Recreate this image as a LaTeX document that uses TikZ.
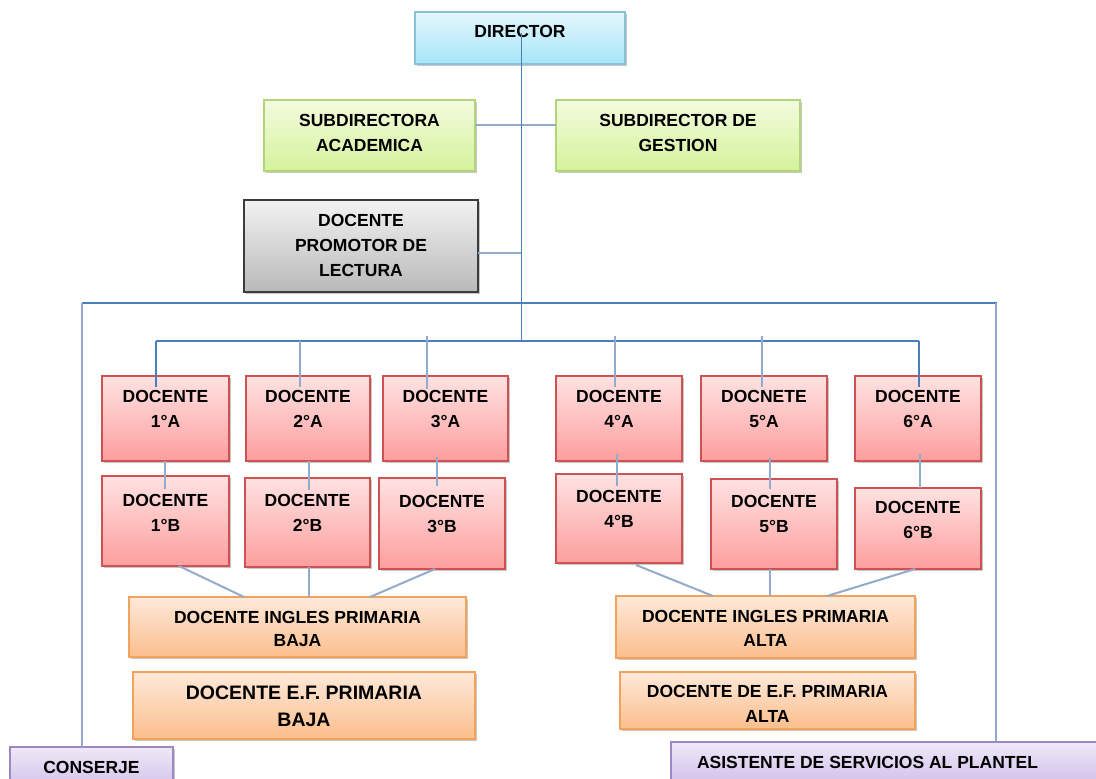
\documentclass[tikz,border=0pt]{standalone}
\usepackage{fontspec}
\setmainfont{Liberation Sans}
\usetikzlibrary{shadows,calc}
\definecolor{cyT}{HTML}{E4F7FD}\definecolor{cyB}{HTML}{A6E5F8}\definecolor{cyD}{HTML}{86C3D8}
\definecolor{grT}{HTML}{F3FBDF}\definecolor{grB}{HTML}{D4F29A}\definecolor{grD}{HTML}{B2D47A}
\definecolor{gyT}{HTML}{F2F2F2}\definecolor{gyB}{HTML}{B9B9B9}\definecolor{gyD}{HTML}{3C3C3C}
\definecolor{rdT}{HTML}{FFE2E2}\definecolor{rdB}{HTML}{FD9E9E}\definecolor{rdD}{HTML}{CF5252}
\definecolor{orT}{HTML}{FEE9DA}\definecolor{orB}{HTML}{FBBE8C}\definecolor{orD}{HTML}{F2A25A}
\definecolor{puT}{HTML}{EFE8F8}\definecolor{puB}{HTML}{CDB9E8}\definecolor{puD}{HTML}{9C88C2}
\definecolor{lnA}{HTML}{4A7EBB}\definecolor{lnB}{HTML}{93ABCB}
\newcommand{\bx}[8]{\node[#2, anchor=north west, inner sep=0pt, outer sep=0pt] (#1) at (#3,#4) {\parbox[c][#6pt][t]{#5pt}{\centering\rule{0pt}{#7pt}#8}};}
\tikzset{
  box/.style={draw, line width=1.2pt, shading=axis, font=\bfseries\fontsize{17.5}{25}\selectfont,
    drop shadow={shadow xshift=1.5pt, shadow yshift=-2pt, fill=black, opacity=0.22}},
  cyanbox/.style={box, top color=cyT, bottom color=cyB, draw=cyD},
  greenbox/.style={box, top color=grT, bottom color=grB, draw=grD},
  graybox/.style={box, top color=gyT, bottom color=gyB, draw=gyD},
  redbox/.style={box, top color=rdT, bottom color=rdB, draw=rdD},
  orangebox/.style={box, top color=orT, bottom color=orB, draw=orD},
  purplebox/.style={box, top color=puT, bottom color=puB, draw=puD},
  mainline/.style={draw=lnA, line width=1.8pt},
  lightline/.style={draw=lnB, line width=2pt}
}
\begin{document}
\begin{tikzpicture}[x=1pt,y=-1pt]
\useasboundingbox (0,0) rectangle (1096,779);
\clip (0,0) rectangle (1096,779);
\fill[white] (0,0) rectangle (1096,779);
% boxes
\bx{dir}{cyanbox}{415}{12}{210}{52}{25}{DIRECTOR}
\bx{sa}{greenbox}{264}{100}{211}{71}{26}{SUBDIRECTORA\\ACADEMICA}
\bx{sg}{greenbox}{556}{100}{244}{71}{26}{SUBDIRECTOR DE\\GESTION}
\bx{pl}{graybox}{244}{200}{234}{92}{26}{DOCENTE\\PROMOTOR DE\\LECTURA}
\bx{a1}{redbox}{102}{376}{127}{85}{26}{DOCENTE\\1°A}
\bx{a2}{redbox}{246}{376}{124}{85}{26}{DOCENTE\\2°A}
\bx{a3}{redbox}{383}{376}{125}{85}{26}{DOCENTE\\3°A}
\bx{a4}{redbox}{556}{376}{126}{85}{26}{DOCENTE\\4°A}
\bx{a5}{redbox}{701}{376}{126}{85}{26}{DOCNETE\\5°A}
\bx{a6}{redbox}{855}{376}{126}{85}{26}{DOCENTE\\6°A}
\bx{b1}{redbox}{102}{476}{127}{90}{30}{DOCENTE\\1°B}
\bx{b2}{redbox}{245}{478}{125}{89}{28}{DOCENTE\\2°B}
\bx{b3}{redbox}{379}{478}{126}{91}{29}{DOCENTE\\3°B}
\bx{b4}{redbox}{556}{474}{126}{89}{28}{DOCENTE\\4°B}
\bx{b5}{redbox}{711}{479}{126}{90}{28}{DOCENTE\\5°B}
\bx{b6}{redbox}{855}{488}{126}{81}{25}{DOCENTE\\6°B}
\bx{ib}{orangebox}{129}{597}{337}{60}{26}{DOCENTE INGLES PRIMARIA\\[-1.5pt]BAJA}
\bx{eb}{orangebox}{133}{672}{342}{67}{27}{\fontsize{19.5}{27}\selectfont DOCENTE E.F. PRIMARIA\\BAJA}
\bx{ia}{orangebox}{616}{596}{299}{62}{26}{DOCENTE INGLES PRIMARIA\\[-1pt]ALTA}
\bx{ea}{orangebox}{620}{672}{295}{57}{25}{DOCENTE DE E.F. PRIMARIA\\ALTA}
\bx{co}{purplebox}{10}{747}{163}{50}{26}{CONSERJE}
\bx{as}{purplebox}{671}{742}{440}{50}{26}{ASISTENTE DE SERVICIOS AL PLANTEL\hspace*{47pt}}
% coordinates
\coordinate (dtop) at (521.5,33);
\coordinate (hub) at (521.5,341);
\coordinate (plj) at (521.5,253);
\coordinate (fl) at (82,303);
\coordinate (fr) at (997,303);
\coordinate (frv) at (996,303);
\coordinate (busL) at (156,341);
\coordinate (busR) at (919,341);
% connectors
\draw[lightline] (sa.east |- 0,125) -- (sg.west |- 0,125);
\draw[lightline] (pl.east |- plj) -- (plj);
\draw[mainline] (dtop) -- (hub);
\draw[mainline] (fl) -- (fr);
\draw[lightline] (fl) -- (co.north -| fl);
\draw[lightline] (frv) -- (as.north -| frv);
\draw[mainline] (busL) -- (busR);
\draw[mainline] (busL) -- ($(a1.north -| busL)+(0,11)$);
\draw[lightline] (300,341) -- ($(a2.north -| 300,0)+(0,11)$);
\draw[lightline] (426.5,336) -- ($(a3.north -| 426.5,0)+(0,13)$);
\draw[lightline] (615,336) -- ($(a4.north -| 615,0)+(0,11)$);
\draw[lightline] (762,336) -- ($(a5.north -| 762,0)+(0,11)$);
\draw[mainline] (busR) -- ($(a6.north -| busR)+(0,11)$);
% A-B connectors
\draw[lightline] (a1.south -| 165,0) -- ($(b1.north -| 165,0)+(0,13)$);
\draw[lightline] (a2.south -| 309,0) -- ($(b2.north -| 309,0)+(0,12)$);
\draw[lightline] ($(a3.south -| 437,0)+(0,-4)$) -- ($(b3.north -| 437,0)+(0,8)$);
\draw[lightline] ($(a4.south -| 617,0)+(0,-7)$) -- ($(b4.north -| 617,0)+(0,12)$);
\draw[lightline] ($(a5.south -| 770,0)+(0,-3)$) -- ($(b5.north -| 770,0)+(0,10)$);
\draw[lightline] ($(a6.south -| 920,0)+(0,-7)$) -- (b6.north -| 920,0);
% B to English
\draw[lightline] (b1.south -| 179,0) -- (ib.north -| 244,0);
\draw[lightline] (b2.south -| 309,0) -- (ib.north -| 309,0);
\draw[lightline] (b3.south -| 435,0) -- (ib.north -| 370,0);
\draw[lightline] ($(b4.south -| 636,0)+(0,2)$) -- (ia.north -| 713,0);
\draw[lightline] (b5.south -| 770,0) -- (ia.north -| 770,0);
\draw[lightline] (b6.south -| 915,0) -- (ia.north -| 827,0);
\end{tikzpicture}
\end{document}
